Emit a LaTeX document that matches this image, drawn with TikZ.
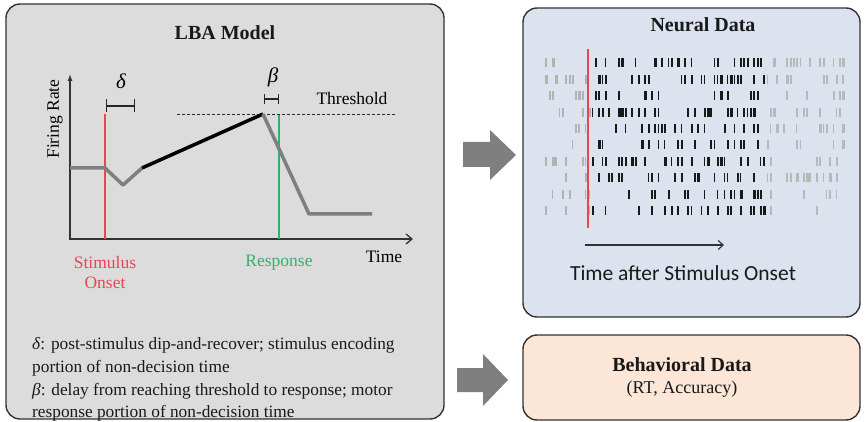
\documentclass[tikz,border=0pt]{standalone}
\usepackage{fontspec}
\setmainfont{Liberation Serif}
\newfontfamily\calib{Carlito}
\usetikzlibrary{arrows.meta}
\definecolor{lbagray}{HTML}{DCDCDC}
\definecolor{neublue}{HTML}{DCE3EE}
\definecolor{behpeach}{HTML}{FCE6D8}
\definecolor{arrgray}{HTML}{7F7F7F}
\definecolor{redl}{HTML}{E8474C}
\definecolor{greenl}{HTML}{2FB36B}
\definecolor{curvegray}{HTML}{7F7F7F}
\begin{document}
\begin{tikzpicture}[x=1pt,y=-1pt,
  panel/.style={draw=black!80, line width=1.4pt, rounded corners=14pt, inner sep=0pt},
  ttl/.style={font=\fontsize{20}{24}\selectfont\bfseries, text=black!90},
  lbl/.style={font=\fontsize{17.5}{20}\selectfont, inner sep=0pt},
  body/.style={font=\fontsize{17.3}{22.5}\selectfont, align=left, anchor=west, inner sep=0pt, text=black!90},
  axis/.style={draw=black!80, line width=1.3pt},
  graycurve/.style={draw=curvegray, line width=3.5pt, line join=round},
  blackcurve/.style={draw=black, line width=3.5pt},
  bigarrow/.style={fill=arrgray, draw=none}]
\useasboundingbox (0,0) rectangle (865,422);
% panels
\node[panel, fill=lbagray, minimum width=438pt, minimum height=415pt] (lba) at (225,211.5) {};
\node[panel, fill=neublue, minimum width=337pt, minimum height=309pt] (neural) at (691.5,162.5) {};
\node[panel, fill=behpeach, minimum width=337pt, minimum height=85pt] (behav) at (691.5,377.5) {};
% titles
\node[ttl] (lbatitle) at (225,33) {LBA Model};
\node[ttl] (neutitle) at (703,25) {Neural Data};
\node[ttl] (behtitle) at (682,365) {Behavioral Data};
\node[font=\fontsize{18}{20}\selectfont, text=black!90] (behsub) at (682,389) {(RT, Accuracy)};
% block arrows
\draw[bigarrow] (463,142) -- (490,142) -- (490,130) -- (516,155) -- (490,180) -- (490,167) -- (463,167) -- cycle;
\draw[bigarrow] (457,368) -- (483,368) -- (483,354) -- (508,380) -- (483,406) -- (483,392) -- (457,392) -- cycle;
% axes
\coordinate (ytop) at (70,74);
\coordinate (origin) at (70,239);
\coordinate (xend) at (413,239);
\draw[axis, {Latex[length=7pt,width=5pt]}-{Straight Barb[length=6pt,width=10pt]}] (ytop) -- (origin) -- (xend);
\node[lbl, rotate=90] (frate) at (55,119) {Firing Rate};
\node[lbl] (time) at (384,257) {Time};
% onset / response lines
\coordinate (stimtop) at (105,114);
\coordinate (stimbot) at (105,239);
\coordinate (resptop) at (279,114);
\coordinate (respbot) at (279,239);
\draw[redl, line width=1.3pt] (stimtop) -- (stimbot);
\draw[greenl, line width=1.3pt] (resptop) -- (respbot);
\node[lbl, text=redl, align=center, font=\fontsize{17.5}{20}\selectfont] (stim) at (105,273) {Stimulus\\Onset};
\node[lbl, text=greenl] (resp) at (279,263) {Response};
% threshold
\coordinate (thl) at (177,114);
\coordinate (thr) at (396,114);
\draw[black!85, line width=0.9pt, dash pattern=on 3pt off 2pt] (thl) -- (thr);
\node[lbl] (thresh) at (352,99) {Threshold};
% firing curve
\coordinate (c0) at (70,168);
\coordinate (c1) at (105,168);
\coordinate (c2) at (123,185);
\coordinate (c3) at (142,168);
\coordinate (c4) at (263,114);
\coordinate (c5) at (309,214);
\coordinate (c6) at (372,214);
\draw[graycurve] (c0) -- (c1) -- (c2) -- (c3);
\draw[blackcurve] (c3) -- (c4);
\draw[graycurve] (c4) -- (c5) -- (c6);
% delta / beta brackets
\coordinate (dl) at (106,106);
\coordinate (dr) at (135,106);
\draw[black!85, line width=1.2pt, {Bar[width=13pt]}-{Bar[width=13pt]}] (dl) -- (dr);
\node[font=\fontsize{21}{24}\selectfont\itshape] (delta) at (121,81) {δ};
\coordinate (bl) at (264,99);
\coordinate (br) at (279,99);
\draw[black!85, line width=1.2pt, {Bar[width=10pt]}-{Bar[width=10pt]}] (bl) -- (br);
\node[font=\fontsize{21}{24}\selectfont\itshape] (beta) at (273,77) {β};
% explanation text
\node[body] (dtext) at (32,357) {\textit{δ}: post-stimulus dip-and-recover; stimulus encoding\\portion of non-decision time};
\node[body] (btext) at (32,402) {\textit{β}: delay from reaching threshold to response; motor\\response portion of non-decision time};
% raster
\pgfmathsetseed{23}
\foreach \r in {0,...,9}{
  \foreach \x in {546,549.3,...,845}{
    \pgfmathtruncatemacro\zone{\x<589?0:(\x<765?1:2)}
    \pgfmathtruncatemacro\on{rnd<(\zone==1?0.34:0.32)?1:0}
    \pgfmathsetmacro\w{1.2+1.4*rnd}
    \ifnum\on=1
      \ifcase\zone \def\tc{black!30}\or \def\tc{black!90}\or \def\tc{black!28}\fi
      \fill[\tc] (\x-0.6, 58.5+\r*16.4) rectangle ++(\w,9);
    \fi
  }
}
\coordinate (rtop) at (588,49);
\coordinate (rbot) at (588,228);
\draw[redl, line width=1.5pt] (rtop) -- (rbot);
\coordinate (tal) at (585,245);
\coordinate (tar) at (724,245);
\draw[black!80, line width=1.1pt, -{Straight Barb[length=5pt,width=9pt]}] (tal) -- (tar);
\node[font=\calib\fontsize{21.5}{24}\selectfont, text=black!90] (tas) at (683,273) {Time after Stimulus Onset};
\end{tikzpicture}
\end{document}
